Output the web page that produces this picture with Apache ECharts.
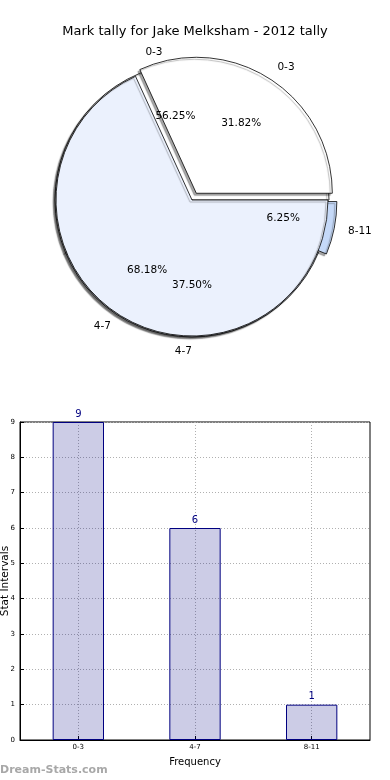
<!DOCTYPE html>
<html>
<head>
<meta charset="utf-8">
<script src="https://cdn.jsdelivr.net/npm/echarts@6/dist/echarts.min.js"></script>
<style>
html,body{margin:0;padding:0;background:#fff;}
#chart{width:390px;height:780px;}
</style>
</head>
<body>
<div id="chart"></div>
<script>
// ---- data ----
const titleText = 'Mark tally for Jake Melksham - 2012 tally';
const categories = ['0-3', '4-7', '8-11'];
const tallyValues = [9, 6, 1];            // pie A and bars
const pieBCategories = ['0-3', '4-7'];
const pieBValues = [7, 15];               // pie B (31.82% / 68.18%)
const yTicks = [0, 9, 1];                 // min, max, interval
const xAxisName = 'Frequency';
const yAxisName = 'Stat Intervals';
const watermark = 'Dream-Stats.com';

// ---- styles ----
const FONT = 'DejaVu Sans';
const sliceColors = {'0-3': '#ffffff', '4-7': '#ebf1fd', '8-11': '#c5d9f8'};
const CENTER = [192, 200];

function pieItems(names, values, selectedName, transparent) {
  return names.map((n, i) => ({
    name: n,
    value: values[i],
    selected: n === selectedName,
    itemStyle: transparent ? {color: 'rgba(0,0,0,0)', borderWidth: 0, shadowBlur: 0, shadowColor: 'rgba(0,0,0,0)'} : {color: sliceColors[n]}
  }));
}

const pieCommon = {
  type: 'pie',
  center: CENTER,
  startAngle: 0,
  clockwise: false,
  avoidLabelOverlap: false,
  selectedMode: 'multiple',
  selectedOffset: 8,
  animation: false,
  emphasis: {disabled: true},
  itemStyle: {
    borderColor: '#000', borderWidth: 0.8,
    shadowColor: 'rgba(0,0,0,0.35)', shadowBlur: 1, shadowOffsetX: -2, shadowOffsetY: 2
  },
  label: {show: true, position: 'outside', formatter: '{b}', fontFamily: FONT, fontSize: 10.5, color: '#000', distanceToLabelLine: 0},
  labelLine: {show: false, length: 14, length2: 0}
};

const pctLabelSeries = {
  type: 'pie',
  center: CENTER,
  startAngle: 0,
  clockwise: false,
  avoidLabelOverlap: false,
  selectedMode: 'multiple',
  selectedOffset: 8,
  animation: false,
  silent: true,
  z: 10,
  emphasis: {disabled: true},
  itemStyle: {color: 'rgba(0,0,0,0)', borderWidth: 0},
  label: {show: true, position: 'inside', fontFamily: FONT, fontSize: 10.5, color: '#000',
    formatter: p => p.percent.toFixed(2) + '%'},
  labelLine: {show: false}
};

const option = {
  animation: false,
  backgroundColor: '#fff',
  title: {
    text: titleText, left: 'center', top: 20,
    textStyle: {fontFamily: FONT, fontSize: 13, fontWeight: 'normal', color: '#000'}
  },
  graphic: [{
    type: 'text', left: 0, top: 765,
    style: {text: watermark, fontFamily: FONT, fontSize: 11, fontWeight: 'bold', fill: '#a8a8a8'}
  }],
  grid: {left: 20, right: 20, top: 422, height: 318, containLabel: false, outerBoundsMode: 'none',
    show: true, borderColor: '#000', borderWidth: 1, backgroundColor: 'rgba(0,0,0,0)'},
  xAxis: [{
    type: 'category', data: categories, position: 'bottom',
    axisLine: {onZero: false, lineStyle: {color: '#000', width: 1}},
    axisTick: {show: true, inside: true, alignWithLabel: true, length: 4, lineStyle: {color: '#000'}},
    axisLabel: {fontFamily: FONT, fontSize: 7, color: '#000', margin: 4},
    splitLine: {show: true, alignWithLabel: true, lineStyle: {color: '#b0b0b0', type: [1, 2], width: 1}},
    name: xAxisName, nameLocation: 'middle', nameGap: 17, nameMoveOverlap: false,
    nameTextStyle: {fontFamily: FONT, fontSize: 10, color: '#000'}
  }],
  yAxis: [{
    type: 'value', min: yTicks[0], max: yTicks[1], interval: yTicks[2],
    axisLine: {show: true, onZero: false, lineStyle: {color: '#000', width: 1}},
    axisTick: {show: true, inside: true, length: 4, lineStyle: {color: '#000'}},
    axisLabel: {fontFamily: FONT, fontSize: 7, color: '#000', margin: 5},
    splitLine: {show: true, lineStyle: {color: '#b0b0b0', type: [1, 2], width: 1}},
    name: yAxisName, nameLocation: 'middle', nameGap: 15, nameRotate: 90, nameMoveOverlap: false,
    nameTextStyle: {fontFamily: FONT, fontSize: 10.5, color: '#000', verticalAlign: 'middle'}
  }],
  series: [
    Object.assign({}, pieCommon, {name: 'A', radius: 137, data: pieItems(categories, tallyValues, '8-11', false)}),
    Object.assign({}, pieCommon, {name: 'B', radius: 136, data: pieItems(pieBCategories, pieBValues, '0-3', false)}),
    Object.assign({}, pctLabelSeries, {name: 'Apct', radius: [0, 164], data: pieItems(categories, tallyValues, '8-11', true)}),
    Object.assign({}, pctLabelSeries, {name: 'Bpct', radius: [0, 160], data: pieItems(pieBCategories, pieBValues, '0-3', true)}),
    {
      type: 'bar', xAxisIndex: 0, yAxisIndex: 0, data: tallyValues, barWidth: '44%',
      itemStyle: {color: 'rgba(0,0,128,0.2)', borderColor: '#000080', borderWidth: 1},
      label: {show: true, position: 'top', distance: 3, fontFamily: FONT, fontSize: 10, color: '#000080'},
      emphasis: {disabled: true}
    }
  ]
};

const chart = echarts.init(document.getElementById('chart'), null, {renderer: 'canvas'});
chart.setOption(option);
</script>
</body>
</html>
